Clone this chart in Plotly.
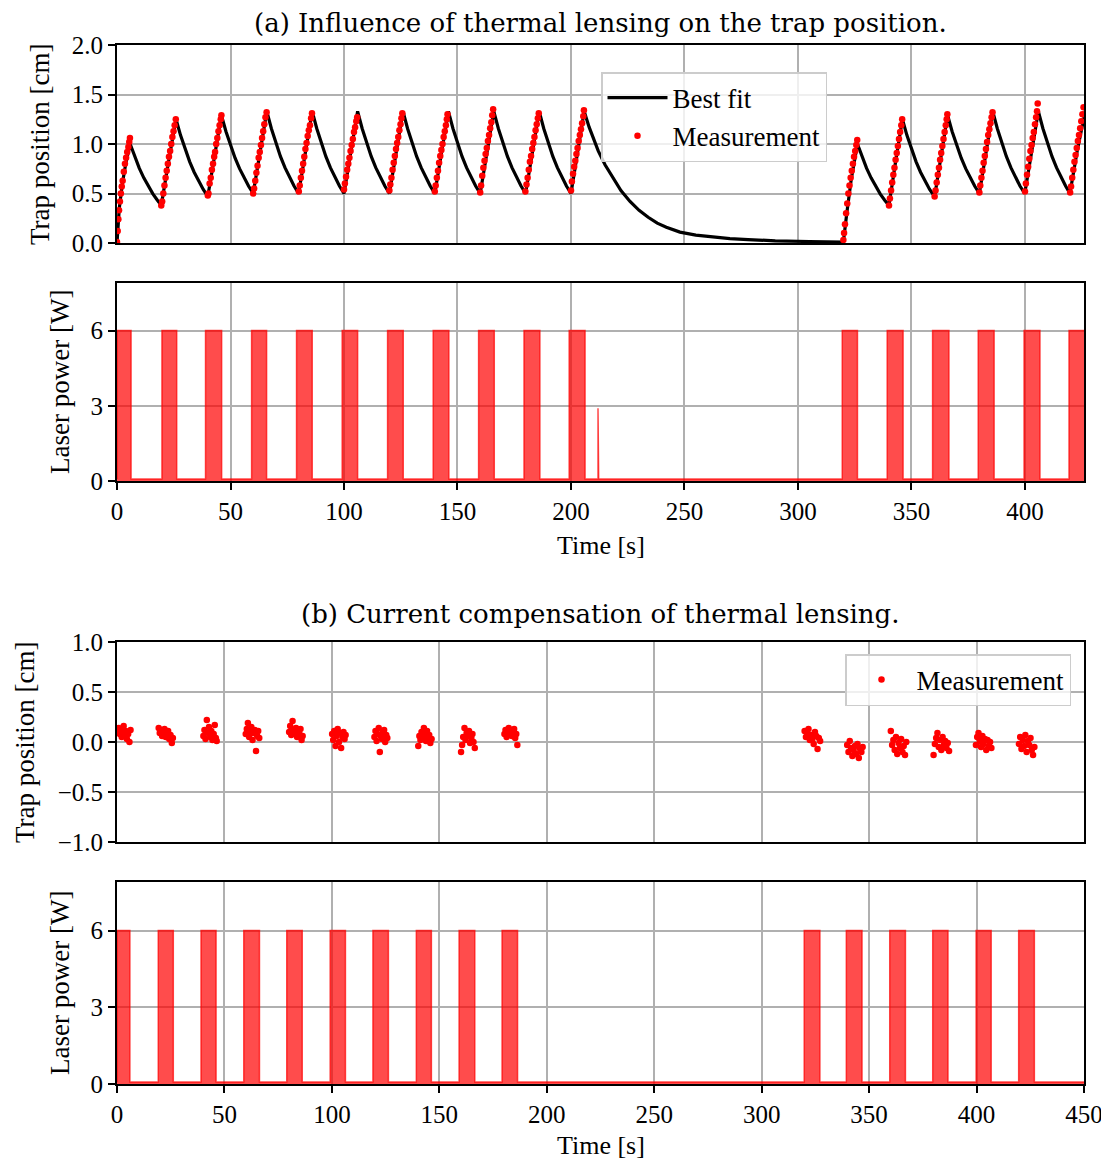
import plotly.graph_objects as go

# ---------------- DATA ----------------
# (a) best fit curve (time [s], trap position [cm])
fit_a_t = [0, 1, 2.5, 4, 5.8, 7.8, 9.8, 11.8, 13.8, 15.8, 17.8, 19.5,
           22.7, 26.0, 28, 30, 32, 34, 36, 38, 40,
           43, 46.0, 48, 50, 52, 54, 56, 58, 60,
           63, 66, 68, 70, 72, 74, 76, 78, 80,
           83, 86, 88, 90, 92, 94, 96, 98, 100,
           103, 106, 108, 110, 112, 114, 116, 118, 120,
           123, 126, 128, 130, 132, 134, 136, 138, 140,
           143, 146, 148, 150, 152, 154, 156, 158, 160,
           163, 166, 168, 170, 172, 174, 176, 178, 180,
           183, 186, 188, 190, 192, 194, 196, 198, 200,
           203, 205.8, 208, 210, 212, 215, 218.5, 222, 226, 230, 234, 238, 242,
           248, 255, 262, 270, 278, 290, 305, 320,
           321.5, 323.5, 326.2, 328.2, 330.2, 332.2, 334.2, 336.2, 338.2, 340.1,
           343.0, 346.0, 348, 350, 352, 354, 356, 358, 360.2,
           363.0, 365.9, 367.9, 369.9, 371.9, 373.9, 375.9, 377.9, 379.9,
           382.8, 385.8, 387.8, 389.8, 391.8, 393.8, 395.8, 397.8, 399.9,
           402.9, 405.9, 407.9, 409.9, 411.9, 413.9, 415.9, 417.9, 419.8,
           423.0, 427.0]
fit_a_y = [0.0, 0.35, 0.62, 0.82, 1.0, 0.87, 0.756, 0.658, 0.572, 0.497, 0.432, 0.38,
           0.82, 1.25, 1.087, 0.945, 0.822, 0.715, 0.622, 0.541, 0.47,
           0.88, 1.29, 1.127, 0.984, 0.859, 0.751, 0.656, 0.573, 0.50,
           0.915, 1.33, 1.157, 1.006, 0.875, 0.761, 0.661, 0.575, 0.50,
           0.915, 1.33, 1.157, 1.006, 0.875, 0.761, 0.661, 0.575, 0.50,
           0.915, 1.33, 1.157, 1.006, 0.875, 0.761, 0.661, 0.575, 0.50,
           0.915, 1.33, 1.157, 1.006, 0.875, 0.761, 0.661, 0.575, 0.50,
           0.915, 1.33, 1.157, 1.006, 0.875, 0.761, 0.661, 0.575, 0.50,
           0.915, 1.33, 1.157, 1.006, 0.875, 0.761, 0.661, 0.575, 0.50,
           0.915, 1.33, 1.157, 1.006, 0.875, 0.761, 0.661, 0.575, 0.50,
           0.915, 1.33, 1.17, 1.04, 0.93, 0.79, 0.66, 0.53, 0.42, 0.33, 0.26, 0.20, 0.16,
           0.11, 0.08, 0.06, 0.045, 0.035, 0.022, 0.015, 0.01,
           0.30, 0.65, 1.0, 0.87, 0.756, 0.658, 0.572, 0.497, 0.432, 0.38,
           0.82, 1.25, 1.087, 0.945, 0.822, 0.715, 0.622, 0.541, 0.47,
           0.88, 1.29, 1.127, 0.984, 0.859, 0.751, 0.656, 0.573, 0.50,
           0.915, 1.33, 1.157, 1.006, 0.875, 0.761, 0.661, 0.575, 0.50,
           0.915, 1.33, 1.157, 1.006, 0.875, 0.761, 0.661, 0.575, 0.50,
           0.93, 1.38]

# (a) measured trap position, one list per laser pulse
meas_a_t = [
    [0.0, 0.3, 0.6, 0.9, 1.3, 1.7, 2.1, 2.5, 3.0, 3.5, 4.0, 4.5, 5.0, 5.4, 5.7],
    [19.5, 19.9, 20.4, 20.9, 21.4, 21.9, 22.4, 22.9, 23.4, 23.9, 24.4, 24.9, 25.4, 25.9],
    [40.0, 40.3, 40.8, 41.3, 41.8, 42.3, 42.8, 43.2, 43.7, 44.2, 44.7, 45.2, 45.7, 46.0],
    [60.0, 60.4, 60.9, 61.4, 61.9, 62.4, 62.9, 63.4, 63.9, 64.4, 64.9, 65.4, 65.9],
    [80.1, 80.5, 81.0, 81.5, 82.0, 82.5, 83.0, 83.5, 84.0, 84.5, 85.0, 85.5, 85.9],
    [100.0, 100.4, 100.9, 101.4, 101.9, 102.4, 102.9, 103.4, 103.9, 104.4, 104.9, 105.4, 105.8],
    [120.0, 120.4, 120.9, 121.4, 121.9, 122.4, 122.9, 123.4, 123.9, 124.4, 124.9, 125.3, 125.7],
    [140.0, 140.4, 140.9, 141.4, 141.9, 142.4, 142.9, 143.4, 143.9, 144.4, 144.9, 145.3, 145.6],
    [160.0, 160.4, 160.9, 161.4, 161.9, 162.4, 162.9, 163.4, 163.9, 164.4, 164.9, 165.3, 165.7],
    [179.9, 180.4, 180.9, 181.4, 181.9, 182.4, 182.9, 183.4, 183.9, 184.4, 184.9, 185.4, 185.8],
    [200.0, 200.4, 200.9, 201.4, 201.9, 202.4, 202.9, 203.4, 203.9, 204.4, 204.9, 205.4, 205.7],
    [320.0, 320.3, 320.7, 321.2, 321.7, 322.2, 322.7, 323.2, 323.7, 324.2, 324.7, 325.2, 325.7, 326.1],
    [340.1, 340.5, 341.0, 341.5, 342.0, 342.5, 343.0, 343.5, 344.0, 344.5, 345.0, 345.5, 345.9],
    [360.2, 360.6, 361.1, 361.6, 362.1, 362.6, 363.1, 363.6, 364.1, 364.6, 365.1, 365.5, 365.8],
    [379.9, 380.3, 380.8, 381.3, 381.8, 382.3, 382.8, 383.3, 383.8, 384.3, 384.8, 385.3, 385.7],
    [400.0, 400.4, 400.9, 401.4, 401.9, 402.4, 402.9, 403.4, 403.9, 404.4, 404.9, 405.3, 405.6],
    [419.9, 420.3, 420.8, 421.3, 421.8, 422.3, 422.8, 423.3, 423.8, 424.3, 424.8, 425.3, 425.8],
]
meas_a_y = [
    [0.01, 0.12, 0.24, 0.33, 0.42, 0.50, 0.57, 0.63, 0.72, 0.80, 0.86, 0.92, 0.97, 1.02, 1.06],
    [0.38, 0.42, 0.50, 0.58, 0.66, 0.73, 0.80, 0.87, 0.93, 1.00, 1.07, 1.13, 1.19, 1.25],
    [0.48, 0.50, 0.60, 0.66, 0.74, 0.80, 0.87, 0.92, 1.00, 1.06, 1.13, 1.19, 1.25, 1.29],
    [0.50, 0.55, 0.63, 0.71, 0.78, 0.86, 0.92, 0.99, 1.06, 1.13, 1.20, 1.27, 1.32],
    [0.52, 0.58, 0.66, 0.73, 0.80, 0.87, 0.95, 1.01, 1.08, 1.14, 1.19, 1.26, 1.31],
    [0.54, 0.60, 0.67, 0.74, 0.80, 0.86, 0.93, 0.99, 1.05, 1.12, 1.17, 1.23, 1.27],
    [0.53, 0.59, 0.66, 0.74, 0.81, 0.88, 0.95, 1.01, 1.07, 1.14, 1.20, 1.26, 1.31],
    [0.52, 0.58, 0.66, 0.73, 0.81, 0.88, 0.94, 1.00, 1.07, 1.13, 1.19, 1.25, 1.30],
    [0.51, 0.58, 0.68, 0.76, 0.83, 0.90, 0.96, 1.03, 1.09, 1.16, 1.22, 1.29, 1.35],
    [0.52, 0.59, 0.66, 0.74, 0.82, 0.88, 0.95, 1.01, 1.07, 1.14, 1.20, 1.26, 1.31],
    [0.53, 0.62, 0.70, 0.77, 0.83, 0.90, 0.96, 1.03, 1.09, 1.15, 1.21, 1.28, 1.34],
    [0.03, 0.10, 0.19, 0.30, 0.40, 0.50, 0.58, 0.66, 0.73, 0.80, 0.87, 0.93, 0.99, 1.04],
    [0.38, 0.45, 0.53, 0.61, 0.69, 0.76, 0.84, 0.91, 0.98, 1.05, 1.12, 1.19, 1.25],
    [0.47, 0.53, 0.61, 0.69, 0.76, 0.84, 0.91, 0.98, 1.05, 1.12, 1.19, 1.25, 1.30],
    [0.51, 0.58, 0.66, 0.73, 0.81, 0.88, 0.95, 1.02, 1.09, 1.15, 1.21, 1.27, 1.32],
    [0.52, 0.60, 0.69, 0.77, 0.85, 0.93, 0.99, 1.06, 1.12, 1.20, 1.27, 1.33, 1.41],
    [0.51, 0.57, 0.66, 0.74, 0.82, 0.89, 0.96, 1.03, 1.09, 1.16, 1.23, 1.30, 1.37],
]

# (a) laser pulses: start, end [s], level [W]
pulse_a_start = [0, 19.8, 39.0, 59.3, 79.1, 99.2, 119.2, 139.3, 159.3, 179.3, 199.2,
                 211.9, 319.5, 339.3, 359.3, 379.4, 399.6, 419.4]
pulse_a_end = [6.2, 26.3, 46.1, 65.9, 86.0, 106.0, 126.1, 146.2, 166.2, 186.3, 206.2,
               212.2, 326.2, 346.3, 366.5, 386.4, 406.6, 427.0]
pulse_a_level = [6.0, 6.0, 6.0, 6.0, 6.0, 6.0, 6.0, 6.0, 6.0, 6.0, 6.0,
                 2.9, 6.0, 6.0, 6.0, 6.0, 6.0, 6.0]

# (b) measured trap position with current compensation, one list per pulse
meas_b_t = [
    [0.3, 0.8, 1.3, 1.7, 2.2, 2.6, 3.1, 3.6, 4.1, 4.6, 5.2, 5.8, 6.3],
    [19.4, 19.9, 20.5, 21.0, 21.6, 22.1, 22.7, 23.2, 23.8, 24.3, 24.9, 25.5, 26.0],
    [40.2, 40.7, 41.2, 41.8, 42.3, 42.8, 43.4, 43.9, 44.4, 45.0, 45.5, 46.0, 46.4],
    [59.9, 60.4, 60.9, 61.5, 62.0, 62.5, 63.1, 63.6, 64.1, 64.7, 65.2, 65.7, 66.2],
    [80.1, 80.6, 81.1, 81.7, 82.2, 82.7, 83.3, 83.8, 84.3, 84.9, 85.4, 85.9, 86.4],
    [100.1, 100.6, 101.1, 101.7, 102.2, 102.7, 103.3, 103.8, 104.3, 104.9, 105.4, 105.9, 106.4],
    [119.8, 120.3, 120.8, 121.3, 121.8, 122.3, 122.8, 123.3, 123.8, 124.3, 124.8, 125.3, 125.8],
    [140.2, 140.7, 141.2, 141.7, 142.2, 142.8, 143.3, 143.8, 144.3, 144.8, 145.3, 145.8, 146.4],
    [160.1, 160.6, 161.1, 161.7, 162.2, 162.7, 163.3, 163.8, 164.3, 164.9, 165.4, 165.9, 166.5],
    [180.3, 180.8, 181.3, 181.8, 182.3, 182.8, 183.3, 183.8, 184.3, 184.8, 185.3, 185.8, 186.3],
    [320.0, 320.6, 321.2, 321.8, 322.4, 323.0, 323.6, 324.2, 324.8, 325.4, 326.0, 326.6, 327.2],
    [339.8, 340.4, 341.0, 341.6, 342.2, 342.8, 343.4, 344.0, 344.6, 345.2, 345.8, 346.4, 347.0],
    [360.1, 360.7, 361.3, 361.9, 362.5, 363.1, 363.7, 364.3, 364.9, 365.5, 366.1, 366.7, 367.3],
    [380.0, 380.6, 381.2, 381.8, 382.4, 383.0, 383.6, 384.2, 384.8, 385.4, 386.0, 386.6, 387.2],
    [399.7, 400.3, 400.9, 401.5, 402.1, 402.7, 403.3, 403.9, 404.5, 405.1, 405.7, 406.3, 406.9],
    [419.7, 420.3, 420.9, 421.5, 422.1, 422.7, 423.3, 423.9, 424.5, 425.1, 425.7, 426.3, 426.9],
]
meas_b_y = [
    [0.10, 0.14, 0.08, 0.12, 0.05, 0.10, 0.16, 0.07, 0.11, 0.03, 0.08, 0.00, 0.12],
    [0.14, 0.09, 0.12, 0.06, 0.10, 0.13, 0.05, 0.08, 0.11, 0.03, 0.07, -0.01, 0.04],
    [0.06, 0.12, 0.03, 0.22, 0.09, 0.15, 0.05, 0.11, 0.02, 0.08, 0.17, 0.04, 0.01],
    [0.08, 0.13, 0.19, 0.05, 0.10, 0.15, 0.02, 0.09, 0.12, -0.09, 0.06, 0.11, 0.04],
    [0.10, 0.16, 0.07, 0.21, 0.12, 0.09, 0.14, 0.05, 0.11, 0.08, 0.13, 0.02, 0.06],
    [0.08, 0.02, 0.11, -0.04, 0.06, 0.13, 0.00, 0.09, -0.06, 0.05, 0.10, 0.03, 0.07],
    [0.05, 0.11, 0.01, 0.08, 0.14, -0.10, 0.06, 0.03, 0.10, 0.12, 0.00, 0.07, 0.04],
    [-0.04, 0.06, 0.02, 0.10, 0.04, 0.14, 0.08, 0.01, 0.11, 0.05, 0.07, -0.01, 0.03],
    [-0.10, -0.03, 0.05, 0.14, 0.02, 0.09, 0.06, 0.11, -0.01, 0.04, 0.08, 0.00, -0.06],
    [0.08, 0.12, 0.05, 0.10, 0.14, 0.07, 0.11, 0.06, 0.09, 0.13, 0.04, 0.08, -0.03],
    [0.11, 0.05, 0.09, 0.13, 0.02, 0.07, 0.03, -0.02, 0.10, 0.06, -0.07, 0.04, 0.01],
    [-0.03, -0.10, 0.01, -0.06, -0.14, -0.08, -0.04, -0.12, -0.02, -0.16, -0.07, -0.10, -0.05],
    [0.11, -0.03, 0.02, -0.08, 0.05, -0.12, -0.01, -0.06, 0.03, -0.10, -0.04, -0.13, 0.00],
    [-0.13, -0.02, 0.04, 0.09, -0.05, 0.02, -0.08, 0.05, -0.03, 0.01, -0.06, -0.01, -0.09],
    [-0.03, 0.05, 0.09, 0.01, -0.05, 0.06, -0.02, 0.03, -0.08, 0.02, -0.04, 0.00, -0.06],
    [-0.02, 0.05, -0.07, 0.02, -0.04, 0.07, -0.10, 0.01, -0.03, 0.04, -0.08, -0.13, -0.05],
]

# (b) laser pulses
pulse_b_start = [0, 19.2, 39.1, 59.0, 79.0, 99.2, 119.1, 139.3, 159.2, 179.2,
                 319.8, 339.4, 359.6, 379.6, 399.8, 419.6]
pulse_b_end = [6.0, 26.2, 46.1, 66.3, 86.2, 106.3, 126.3, 146.3, 166.5, 186.4,
               327.1, 346.7, 366.9, 386.7, 406.8, 426.9]
pulse_b_level = [6.0] * 16

laser_off_level = 0.08  # W, residual reading between pulses

xticks_a = [0, 50, 100, 150, 200, 250, 300, 350, 400]
xticks_b = [0, 50, 100, 150, 200, 250, 300, 350, 400, 450]
yticks_pos_a = [0.0, 0.5, 1.0, 1.5, 2.0]
yticks_pos_b = [-1.0, -0.5, 0.0, 0.5, 1.0]
yticks_pow = [0, 3, 6]

# ---------------- HELPERS ----------------
OFF = 8                      # page body margin of the browser
W, H = 1109 - OFF, 1162 - OFF
FONT = "Liberation Serif"
TFONT = "DejaVu Serif"
RED = "#ff0000"


def px_x(p):
    return (p - OFF) / W


def px_y(p):
    return 1 - (p - OFF) / H


def flat(lol):
    return [v for sub in lol for v in sub]


def step_series(starts, ends, levels, base, xmax):
    xs, ys = [0], [base]
    for s, e, lv in zip(starts, ends, levels):
        xs += [s, s, e, e]
        ys += [base, lv, lv, base]
    xs.append(xmax)
    ys.append(base)
    return xs, ys


def fmt_tick(v, dec):
    s = f"{v:.{dec}f}"
    return s.replace("-", "\u2212")


fig = go.Figure()

# (a) top: fit + measurement
fig.add_trace(go.Scatter(x=fit_a_t, y=fit_a_y, mode="lines", name="Best fit",
                         line=dict(color="black", width=3.2), xaxis="x", yaxis="y",
                         legend="legend", legendgroup="fit"))
fig.add_trace(go.Scatter(x=flat(meas_a_t), y=flat(meas_a_y), mode="markers", name="Measurement",
                         marker=dict(color=RED, size=6.5), xaxis="x", yaxis="y",
                         legend="legend", legendgroup="meas"))

# (a) bottom: laser power
xa, ya = step_series(pulse_a_start, pulse_a_end, pulse_a_level, laser_off_level, 427)
fig.add_trace(go.Scatter(x=xa, y=ya, mode="lines", fill="tozeroy",
                         fillcolor="rgba(255,0,0,0.7)",
                         line=dict(color="rgba(255,0,0,0.7)", width=1.5),
                         showlegend=False, xaxis="x2", yaxis="y2"))

# (b) top: measurement
fig.add_trace(go.Scatter(x=flat(meas_b_t), y=flat(meas_b_y), mode="markers", name="Measurement",
                         marker=dict(color=RED, size=6.5), xaxis="x3", yaxis="y3",
                         legend="legend2"))

# (b) bottom: laser power
xb, yb = step_series(pulse_b_start, pulse_b_end, pulse_b_level, laser_off_level, 450)
fig.add_trace(go.Scatter(x=xb, y=yb, mode="lines", fill="tozeroy",
                         fillcolor="rgba(255,0,0,0.7)",
                         line=dict(color="rgba(255,0,0,0.7)", width=1.5),
                         showlegend=False, xaxis="x4", yaxis="y4"))

axis_common = dict(showline=True, linecolor="black", linewidth=2, mirror=True,
                   showgrid=True, gridcolor="#b0b0b0", gridwidth=1.5, automargin=False,
                   zeroline=False, tickfont=dict(family=FONT, size=25, color="black"),
                   ticks="outside", ticklen=7, tickwidth=1.8, tickcolor="black")

xdom = [px_x(117), px_x(1084)]
rows = {  # top, bottom pixel
    1: (45, 243),
    2: (283, 481),
    3: (642, 842),
    4: (882, 1084),
}


def ydom(r):
    t, b = rows[r]
    return [px_y(b), px_y(t)]


layout = dict(
    width=W, height=H, margin=dict(l=0, r=0, t=0, b=0, autoexpand=False),
    paper_bgcolor="white", plot_bgcolor="white",
    font=dict(family=FONT, size=25, color="black"),
    xaxis=dict(axis_common, domain=xdom, anchor="y", range=[0, 426], tickvals=xticks_a,
               showticklabels=False, ticks=""),
    yaxis=dict(axis_common, domain=ydom(1), anchor="x", range=[0, 2.0], tickvals=yticks_pos_a,
               ticktext=[fmt_tick(v, 1) for v in yticks_pos_a]),
    xaxis2=dict(axis_common, domain=xdom, anchor="y2", range=[0, 426], tickvals=xticks_a,
                ticktext=[str(v) for v in xticks_a]),
    yaxis2=dict(axis_common, domain=ydom(2), anchor="x2", range=[0, 7.9], tickvals=yticks_pow,
                ticktext=[str(v) for v in yticks_pow]),
    xaxis3=dict(axis_common, domain=xdom, anchor="y3", range=[0, 450], tickvals=xticks_b,
                showticklabels=False, ticks=""),
    yaxis3=dict(axis_common, domain=ydom(3), anchor="x3", range=[-1.0, 1.0], tickvals=yticks_pos_b,
                ticktext=[fmt_tick(v, 1) for v in yticks_pos_b]),
    xaxis4=dict(axis_common, domain=xdom, anchor="y4", range=[0, 450], tickvals=xticks_b,
                ticktext=[str(v) for v in xticks_b]),
    yaxis4=dict(axis_common, domain=ydom(4), anchor="x4", range=[0, 7.9], tickvals=yticks_pow,
                ticktext=[str(v) for v in yticks_pow]),
    legend=dict(x=px_x(601), y=px_y(72), xanchor="left", yanchor="top",
                bgcolor="rgba(255,255,255,0.8)", bordercolor="#cccccc", borderwidth=1.5,
                font=dict(family=FONT, size=27), tracegroupgap=0, itemwidth=60),
    legend2=dict(x=px_x(1071), y=px_y(654), xanchor="right", yanchor="top",
                 bgcolor="rgba(255,255,255,0.8)", bordercolor="#cccccc", borderwidth=1.5,
                 font=dict(family=FONT, size=27), itemwidth=60),
    showlegend=True,
)
fig.update_layout(**layout)

ann = []


def text(x, y, s, angle=0, family=FONT, size=26):
    ann.append(dict(x=px_x(x), y=px_y(y), xref="paper", yref="paper", text=s,
                    showarrow=False, textangle=angle, xanchor="center", yanchor="middle",
                    borderpad=0, font=dict(family=family, size=size, color="black")))


text(600.5, 23, "(a) Influence of thermal lensing on the trap position.", family=TFONT, size=26)
text(600.5, 614, "(b) Current compensation of thermal lensing.", family=TFONT, size=26)
text(600.5, 545, "Time [s]")
text(600.5, 1145, "Time [s]")
text(40, 144, "Trap position [cm]", -90, size=27)
text(60, 382, "Laser power [W]", -90, size=27)
text(25, 742, "Trap position [cm]", -90, size=27)
text(60, 983, "Laser power [W]", -90, size=27)
fig.update_layout(annotations=ann)

fig.write_html("out.html")
